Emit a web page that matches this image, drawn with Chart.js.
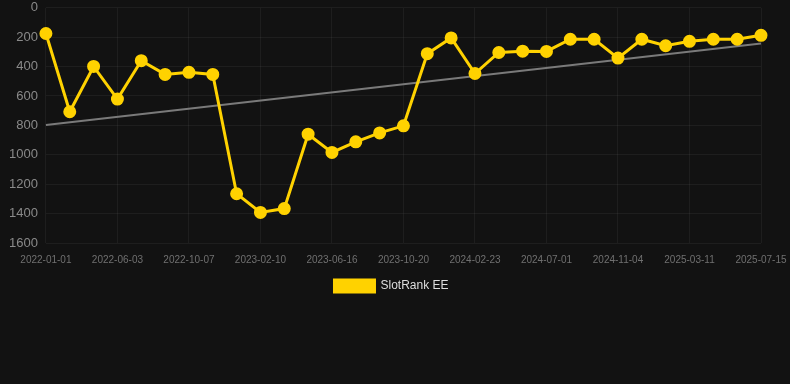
<!DOCTYPE html>
<html>
<head>
<meta charset="utf-8">
<script src="https://cdn.jsdelivr.net/npm/chart.js@4/dist/chart.umd.min.js"></script>
<style>
  html, body { margin: 0; padding: 0; background: #121212; overflow: hidden; }
  #wrap { position: relative; width: 790px; height: 310px; margin-top: -8px; }
</style>
</head>
<body>
<div id="wrap"><canvas id="chart"></canvas></div>
<script>
// rank history, lower number = better rank
const dates = [
  "2022-01-01", "2022-02-21", "2022-04-13", "2022-06-03", "2022-07-15", "2022-08-26",
  "2022-10-07", "2022-11-18", "2022-12-30", "2023-02-10", "2023-03-24", "2023-05-05",
  "2023-06-16", "2023-07-28", "2023-09-08", "2023-10-20", "2023-12-01", "2024-01-12",
  "2024-02-23", "2024-04-05", "2024-05-17", "2024-07-01", "2024-08-11", "2024-09-23",
  "2024-11-04", "2024-12-16", "2025-01-27", "2025-03-11", "2025-04-22", "2025-06-03",
  "2025-07-15"
];
const rankEE = [
  175, 707, 399, 621, 360, 453, 439, 453, 1265, 1392, 1366, 860,
  984, 912, 851, 803, 312, 205, 447, 304, 295, 297, 214, 214,
  342, 214, 258, 228, 214, 214, 187
];
// trend line: only ends are known, straight line between them
const trend = dates.map((d, i) => (i === 0 ? 797 : i === dates.length - 1 ? 243 : null));
const yTicks = [0, 200, 400, 600, 800, 1000, 1200, 1400, 1600];

const FONT = "Arial, 'Liberation Sans', sans-serif";
const YELLOW = "#ffd200";

new Chart(document.getElementById("chart").getContext("2d"), {
  type: "line",
  data: {
    labels: dates,
    datasets: [
      {
        label: "SlotRank EE",
        data: rankEE,
        borderColor: YELLOW,
        backgroundColor: YELLOW,
        borderWidth: 3,
        pointRadius: 5,
        pointBackgroundColor: YELLOW,
        pointBorderColor: YELLOW,
        tension: 0,
      },
      {
        label: "trend",
        data: trend,
        borderColor: "#7a7a7a",
        borderWidth: 2,
        pointRadius: 0,
        spanGaps: true,
        tension: 0,
      },
    ],
  },
  options: {
    responsive: true,
    maintainAspectRatio: false,
    animation: false,
    layout: { padding: { left: 1, right: 8, top: 0, bottom: 0 } },
    scales: {
      x: {
        // last label only needs half its width on the right
        afterFit: (s) => { s.paddingRight = 29; },
        grid: { color: "rgba(255,255,255,0.05)", drawTicks: false },
        border: { display: false },
        ticks: {
          color: "#707070",
          font: { family: FONT, size: 10 },
          autoSkip: false,
          maxRotation: 0,
          padding: 11,
          callback: function (v, i) {
            return i % 3 === 0 ? dates[i] : null;
          },
        },
      },
      y: {
        reverse: true,
        min: 0,
        max: 1600,
        afterBuildTicks: (axis) => {
          axis.ticks = yTicks.map((v) => ({ value: v }));
        },
        grid: { color: "rgba(255,255,255,0.05)", drawTicks: false },
        border: { display: false },
        ticks: {
          color: "#8a8a8a",
          font: { family: FONT, size: 13 },
          padding: 8,
          callback: (v) => String(v),
        },
      },
    },
    plugins: {
      legend: {
        position: "bottom",
        labels: {
          color: "#dddddd",
          font: { family: FONT, size: 12 },
          boxWidth: 40,
          boxHeight: 12,
          padding: 3,
          filter: (item) => item.text !== "trend",
        },
      },
      tooltip: { enabled: false },
    },
  },
});
</script>
</body>
</html>
